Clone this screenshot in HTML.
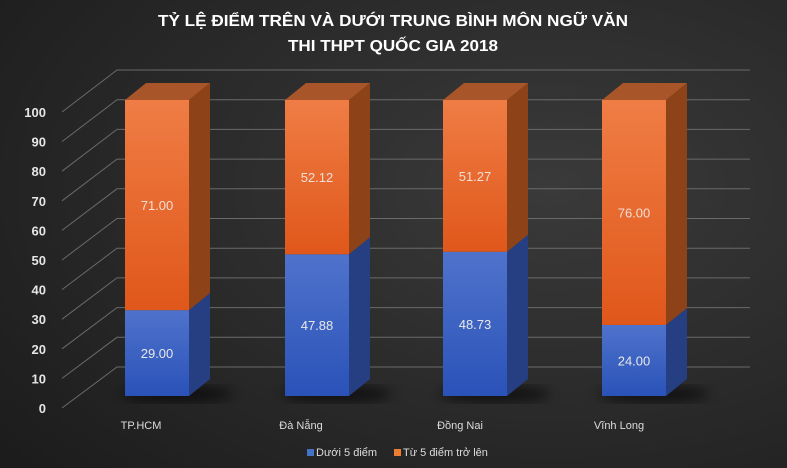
<!DOCTYPE html>
<html><head><meta charset="utf-8"><style>
html,body{margin:0;padding:0;background:#262626}
svg{display:block}
text{font-family:"Liberation Sans",sans-serif}
</style></head><body>
<svg width="787" height="468" viewBox="0 0 787 468" xmlns="http://www.w3.org/2000/svg">
<defs>
<radialGradient id="bg" cx="0.7" cy="0.4" r="0.9">
<stop offset="0" stop-color="#3a3a3a"/><stop offset="1" stop-color="#1c1c1c"/>
</radialGradient>
<linearGradient id="org" x1="0" y1="0" x2="0" y2="1">
<stop offset="0" stop-color="#ef7d45"/><stop offset="1" stop-color="#e0571a"/>
</linearGradient>
<linearGradient id="blu" x1="0" y1="0" x2="0" y2="1">
<stop offset="0" stop-color="#4f73cc"/><stop offset="1" stop-color="#2a52b8"/>
</linearGradient>
<filter id="sh"><feGaussianBlur stdDeviation="6"/></filter>
</defs>
<rect width="787" height="468" fill="url(#bg)"/>
<text x="393" y="26" fill="#fff" font-size="16" font-weight="bold" text-anchor="middle" textLength="470" lengthAdjust="spacingAndGlyphs">TỶ LỆ ĐIỂM TRÊN VÀ DƯỚI TRUNG BÌNH MÔN NGỮ VĂN</text>
<text x="393" y="51" fill="#fff" font-size="16" font-weight="bold" text-anchor="middle" textLength="210" lengthAdjust="spacingAndGlyphs">THI THPT QUỐC GIA 2018</text>
<g stroke="#6a6a6a" stroke-width="1" fill="none" id="grid"></g>
<g id="bars"></g>
<g id="lab" fill="#e6e6e6" font-size="13" font-weight="bold"></g>
<text x="141" y="429" fill="#ddd" font-size="11" text-anchor="middle">TP.HCM</text>
<text x="301" y="429" fill="#ddd" font-size="11" text-anchor="middle">Đà Nẵng</text>
<text x="460" y="429" fill="#ddd" font-size="11" text-anchor="middle">Đồng Nai</text>
<text x="619" y="429" fill="#ddd" font-size="11" text-anchor="middle">Vĩnh Long</text>
<rect x="307" y="449" width="7" height="7" fill="#4472c4"/>
<text x="316" y="456" fill="#ddd" font-size="11">Dưới 5 điểm</text>
<rect x="394" y="449" width="7" height="7" fill="#ed7d31"/>
<text x="403" y="456" fill="#ddd" font-size="11">Từ 5 điểm trở lên</text>
</svg>
<script>
var ns="http://www.w3.org/2000/svg";
function el(p,t,a,txt){var e=document.createElementNS(ns,t);for(var k in a)e.setAttribute(k,a[k]);if(txt!=null)e.textContent=txt;document.getElementById(p).appendChild(e);return e;}
for(var i=0;i<=10;i++){
 var fy=408-i*29.6, by=367-i*29.7;
 el("grid","path",{d:"M62 "+fy+" L117 "+by+" L750 "+by});
 el("lab","text",{x:46,y:fy+5,"text-anchor":"end"},String(i*10));
}
var xs=[125,285,443,602], bl=[29,47.88,48.73,24];
var B=396,S=2.96,W=64,DX=21,DY=-17;
xs.forEach(function(x,j){
 el("bars","ellipse",{cx:x+W/2+20,cy:B-2,rx:55,ry:8,fill:"#000",opacity:"0.6",filter:"url(#sh)"});
 var yb=B-bl[j]*S, yt=B-100*S;
 el("bars","path",{d:"M"+(x+W)+" "+B+" l"+DX+" "+DY+" V"+(yb+DY)+" L"+(x+W)+" "+yb+"Z",fill:"#263f82"});
 el("bars","path",{d:"M"+(x+W)+" "+yb+" l"+DX+" "+DY+" V"+(yt+DY)+" L"+(x+W)+" "+yt+"Z",fill:"#8e4217"});
 el("bars","path",{d:"M"+x+" "+yt+" l"+DX+" "+DY+" h"+W+" l"+(-DX)+" "+(-DY)+"Z",fill:"#a9552a"});
 el("bars","rect",{x:x,y:yb,width:W,height:B-yb,fill:"url(#blu)"});
 el("bars","rect",{x:x,y:yt,width:W,height:yb-yt,fill:"url(#org)"});
 el("bars","text",{x:x+W/2,y:(yb+B)/2+5,"text-anchor":"middle",fill:"#e8e8e8","font-size":"13"},bl[j].toFixed(2));
 el("bars","text",{x:x+W/2,y:(yt+yb)/2+5,"text-anchor":"middle",fill:"#f0e0d8","font-size":"13"},(100-bl[j]).toFixed(2));
});
</script>
</body></html>
